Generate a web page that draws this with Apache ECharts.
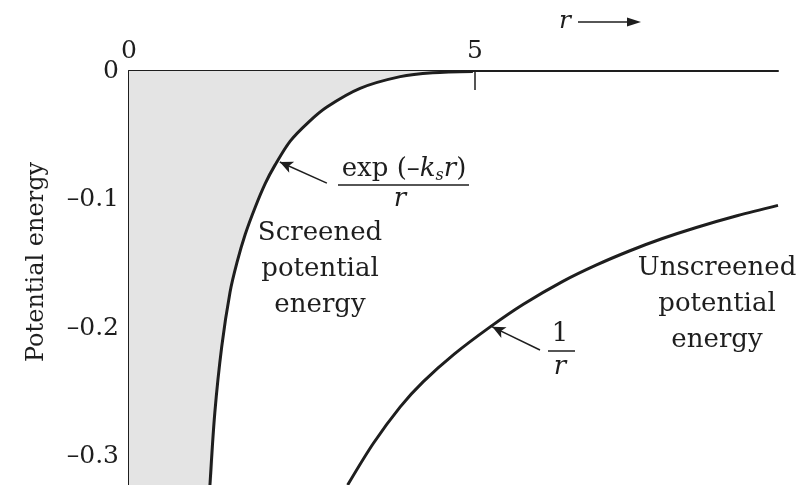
<!DOCTYPE html>
<html>
<head>
<meta charset="utf-8">
<script src="https://cdn.jsdelivr.net/npm/echarts@6/dist/echarts.min.js"></script>
<style>
  html, body { margin: 0; padding: 0; background: #fff; }
  #chart { width: 809px; height: 485px; }
</style>
</head>
<body>
<div id="chart"></div>
<script>
// values: [r, potential energy]
const screened = [
  [1.17, -0.322], [1.24, -0.266], [1.34, -0.2145], [1.46, -0.172], [1.56, -0.149],
  [1.68, -0.127], [1.82, -0.1065], [1.97, -0.0874], [2.11, -0.0732], [2.33, -0.0545],
  [2.60, -0.0395], [2.86, -0.028], [3.34, -0.0135], [3.92, -0.0044], [4.39, -0.0013],
  [4.97, -0.0003]
];
const unscreened = [
  [3.16, -0.322], [3.53, -0.2897], [3.92, -0.2612], [4.25, -0.2418], [4.70, -0.2202],
  [5.22, -0.199], [5.70, -0.1814], [6.27, -0.1636], [6.75, -0.151], [7.24, -0.1398],
  [7.70, -0.1305], [8.20, -0.1217], [8.80, -0.1124], [9.38, -0.1045]
];
const xTicks = [0, 5];
const yTicks = [0, -0.1, -0.2, -0.3];
const rMax = 9.38;
const eMin = -0.322;

// shading: everything left of the screened curve
const shade = [[0, -0.322]].concat(screened);

const font = 'DejaVu Serif';
const ink = '#1e1e1e';

const myChart = echarts.init(document.getElementById('chart'));

const arrowLine = (from, to) => ({
  silent: true,
  symbol: ['none', 'arrow'],
  symbolSize: [9, 13],
  label: { show: false },
  lineStyle: { color: ink, width: 1.5, type: 'solid' },
  data: [[{ coord: from }, { coord: to }]]
});

const option = {
  animation: false,
  backgroundColor: '#fff',
  grid: { left: 129, right: 31, top: 71, bottom: 0 },
  xAxis: {
    type: 'value',
    position: 'top',
    min: 0,
    max: rMax,
    axisLine: { show: true, lineStyle: { color: ink, width: 2 } },
    axisTick: { show: true, inside: true, length: 19, customValues: xTicks, lineStyle: { color: ink, width: 1.5 } },
    axisLabel: {
      customValues: xTicks, margin: 7, color: ink,
      fontFamily: font, fontSize: 25,
      formatter: v => String(v)
    },
    splitLine: { show: false }
  },
  yAxis: {
    type: 'value',
    min: eMin,
    max: 0,
    axisLine: { show: true, lineStyle: { color: ink, width: 2 } },
    axisTick: { show: true, inside: true, length: 20, customValues: yTicks, lineStyle: { color: ink, width: 1.5 } },
    axisLabel: {
      customValues: yTicks, margin: 10, color: ink,
      fontFamily: font, fontSize: 25, padding: [6, 0, 0, 0],
      formatter: v => v === 0 ? '0' : '\u2013' + Math.abs(v).toFixed(1)
    },
    splitLine: { show: false }
  },
  series: [
    {
      type: 'line',
      data: shade,
      smooth: 0.3,
      symbol: 'none',
      lineStyle: { width: 0 },
      areaStyle: { color: '#e4e4e4', opacity: 1 },
      z: 1,
      silent: true
    },
    {
      type: 'line',
      data: screened,
      smooth: 0.3,
      symbol: 'none',
      lineStyle: { color: ink, width: 3 },
      z: 3,
      markLine: arrowLine([2.86, -0.0872], [2.18, -0.0708])
    },
    {
      type: 'line',
      data: unscreened,
      smooth: 0.3,
      symbol: 'none',
      lineStyle: { color: ink, width: 3 },
      z: 3,
      markLine: arrowLine([5.94, -0.217], [5.25, -0.199])
    }
  ],
  graphic: [
    {
      type: 'text', x: 37, y: 262, rotation: Math.PI / 2,
      style: { text: 'Potential energy', fontFamily: font, fontSize: 24, fill: ink, align: 'center', verticalAlign: 'middle' }
    },
    // r -> along the top
    {
      type: 'text', x: 565, y: 21,
      style: { text: 'r', fontFamily: font, fontStyle: 'italic', fontSize: 25, fill: ink, align: 'center', verticalAlign: 'middle' }
    },
    { type: 'line', shape: { x1: 578, y1: 22, x2: 632, y2: 22 }, style: { stroke: ink, lineWidth: 1.5 } },
    { type: 'polygon', shape: { points: [[627, 17.5], [641, 22], [627, 26.5]] }, style: { fill: ink } },
    // screened formula
    {
      type: 'text', x: 404, y: 169,
      style: {
        text: '{a|exp (\u2013}{i|k}{s|s}{i|r}{a|)}',
        align: 'center', verticalAlign: 'middle',
        rich: {
          a: { fontFamily: font, fontSize: 26, fill: ink },
          i: { fontFamily: font, fontSize: 26, fontStyle: 'italic', fill: ink },
          s: { fontFamily: font, fontSize: 16, fontStyle: 'italic', fill: ink, padding: [13, 0, 0, 0] }
        }
      }
    },
    { type: 'line', shape: { x1: 338, y1: 185, x2: 469, y2: 185 }, style: { stroke: ink, lineWidth: 1.5 } },
    {
      type: 'text', x: 400, y: 199,
      style: { text: 'r', fontFamily: font, fontStyle: 'italic', fontSize: 26, fill: ink, align: 'center', verticalAlign: 'middle' }
    },
    {
      type: 'text', x: 320, y: 269,
      style: { text: 'Screened\npotential\nenergy', fontFamily: font, fontSize: 26, lineHeight: 36, fill: ink, align: 'center', verticalAlign: 'middle' }
    },
    // unscreened formula
    {
      type: 'text', x: 560, y: 334,
      style: { text: '1', fontFamily: font, fontSize: 26, fill: ink, align: 'center', verticalAlign: 'middle' }
    },
    { type: 'line', shape: { x1: 548, y1: 351, x2: 575, y2: 351 }, style: { stroke: ink, lineWidth: 1.5 } },
    {
      type: 'text', x: 560, y: 367,
      style: { text: 'r', fontFamily: font, fontStyle: 'italic', fontSize: 26, fill: ink, align: 'center', verticalAlign: 'middle' }
    },
    {
      type: 'text', x: 717, y: 304,
      style: { text: 'Unscreened\npotential\nenergy', fontFamily: font, fontSize: 26, lineHeight: 36, fill: ink, align: 'center', verticalAlign: 'middle' }
    }
  ]
};

myChart.setOption(option);
</script>
</body>
</html>
